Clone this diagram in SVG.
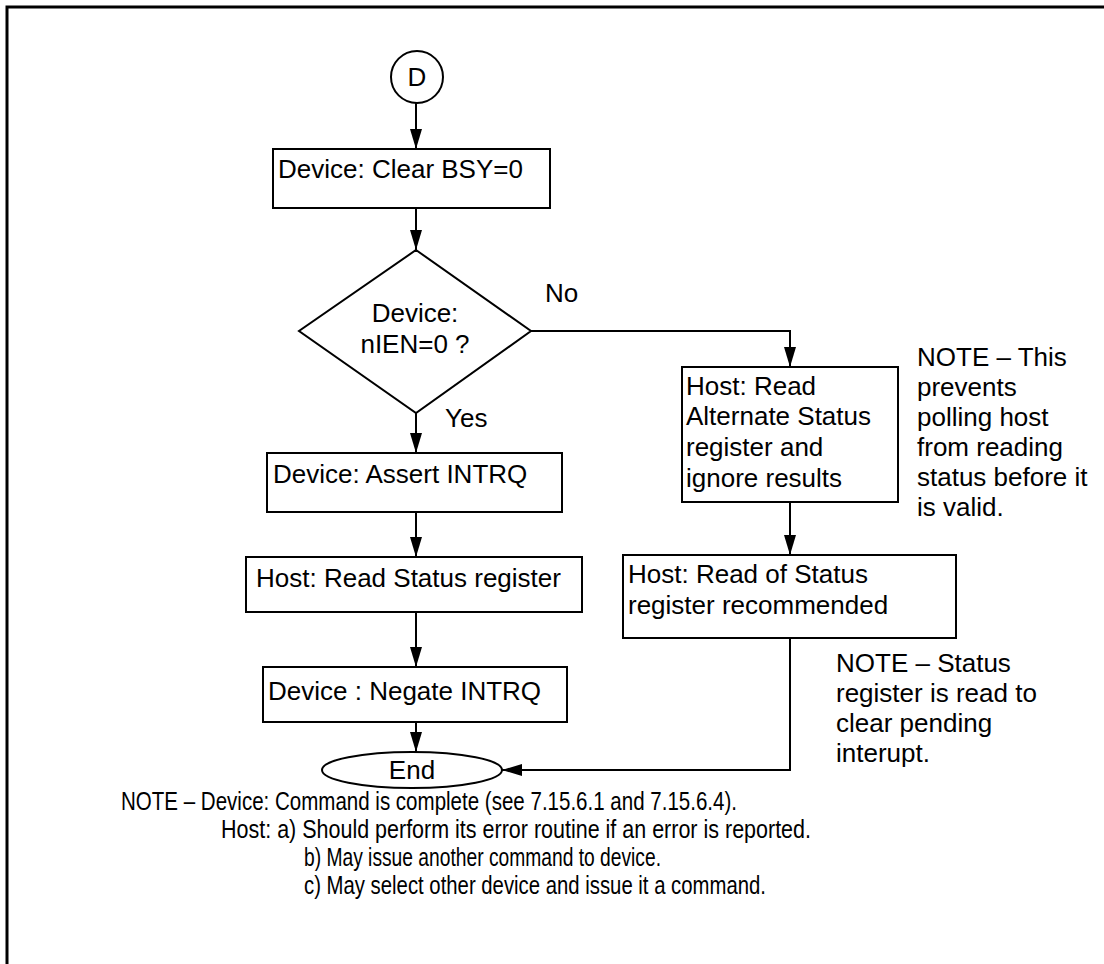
<svg xmlns="http://www.w3.org/2000/svg" width="1104" height="964" viewBox="0 0 1104 964">
<style>
text{font-family:"Liberation Sans",Arial,sans-serif;font-size:26px;fill:#000}
.box{fill:#fff;stroke:#000;stroke-width:2}
.ln{fill:none;stroke:#000;stroke-width:2}
.note{font-size:26.5px}
</style>
<defs>
<marker id="ah" viewBox="0 0 20 12" refX="20" refY="6" markerWidth="20" markerHeight="12" markerUnits="userSpaceOnUse" orient="auto">
<path d="M0,0 L20,6 L0,12 Z" fill="#000"/>
</marker>
</defs>
<rect x="0" y="0" width="1104" height="964" fill="#fff"/>
<path d="M7,964 V7 H1104" fill="none" stroke="#000" stroke-width="3"/>
<g id="connectors">
<line class="ln" x1="416" y1="103" x2="416" y2="149" marker-end="url(#ah)"/>
<line class="ln" x1="416" y1="208" x2="416" y2="250" marker-end="url(#ah)"/>
<line class="ln" x1="416" y1="413" x2="416" y2="453" marker-end="url(#ah)"/>
<line class="ln" x1="416" y1="512" x2="416" y2="557" marker-end="url(#ah)"/>
<line class="ln" x1="416" y1="612" x2="416" y2="667" marker-end="url(#ah)"/>
<line class="ln" x1="416" y1="722" x2="416" y2="752" marker-end="url(#ah)"/>
<polyline class="ln" points="531,331 790,331 790,367" marker-end="url(#ah)"/>
<line class="ln" x1="790" y1="502" x2="790" y2="555" marker-end="url(#ah)"/>
<polyline class="ln" points="790,638 790,770 502,770" marker-end="url(#ah)"/>
<text x="545" y="302">No</text>
<text x="445" y="427">Yes</text>
</g>
<g id="start">
<circle class="box" cx="417" cy="77" r="26"/>
<text x="417" y="86" text-anchor="middle">D</text>
</g>
<g id="clear-bsy">
<rect class="box" x="273" y="149" width="277" height="59"/>
<text x="278" y="178">Device: Clear BSY=0</text>
</g>
<g id="decision">
<polygon class="box" points="416,250 531,331 416,413 299,331"/>
<text x="415" y="322" text-anchor="middle">Device:</text>
<text x="415" y="353" text-anchor="middle">nIEN=0 ?</text>
</g>
<g id="assert-intrq">
<rect class="box" x="267" y="453" width="295" height="59"/>
<text x="273" y="483">Device: Assert INTRQ</text>
</g>
<g id="read-status">
<rect class="box" x="246" y="557" width="336" height="55"/>
<text x="256" y="587">Host: Read Status register</text>
</g>
<g id="negate-intrq">
<rect class="box" x="263" y="667" width="304" height="55"/>
<text x="268" y="700">Device : Negate INTRQ</text>
</g>
<g id="end">
<ellipse class="box" cx="412" cy="770" rx="90" ry="18"/>
<text x="412" y="779" text-anchor="middle">End</text>
</g>
<g id="read-alt-status">
<rect class="box" x="682" y="367" width="216" height="135"/>
<text x="686" y="395">Host: Read</text>
<text x="686" y="425">Alternate Status</text>
<text x="686" y="456">register and</text>
<text x="686" y="487">ignore results</text>
</g>
<g id="read-of-status">
<rect class="box" x="623" y="555" width="333" height="83"/>
<text x="628" y="583">Host: Read of Status</text>
<text x="628" y="614">register recommended</text>
</g>
<g id="note-alt">
<text x="917" y="366">NOTE – This</text>
<text x="917" y="396">prevents</text>
<text x="917" y="426">polling host</text>
<text x="917" y="456">from reading</text>
<text x="917" y="486">status before it</text>
<text x="917" y="516">is valid.</text>
</g>
<g id="note-status">
<text x="836" y="672">NOTE – Status</text>
<text x="836" y="702">register is read to</text>
<text x="836" y="732">clear pending</text>
<text x="836" y="762">interupt.</text>
</g>
<g id="note-bottom">
<text class="note" x="121" y="810" textLength="616" lengthAdjust="spacingAndGlyphs">NOTE – Device: Command is complete (see 7.15.6.1 and 7.15.6.4).</text>
<text class="note" x="221" y="838" textLength="590" lengthAdjust="spacingAndGlyphs">Host:  a) Should perform its error routine if an error is reported.</text>
<text class="note" x="304" y="866" textLength="357" lengthAdjust="spacingAndGlyphs">b) May issue another command to device.</text>
<text class="note" x="304" y="894" textLength="462" lengthAdjust="spacingAndGlyphs">c) May select other device and issue it a command.</text>
</g>
</svg>
